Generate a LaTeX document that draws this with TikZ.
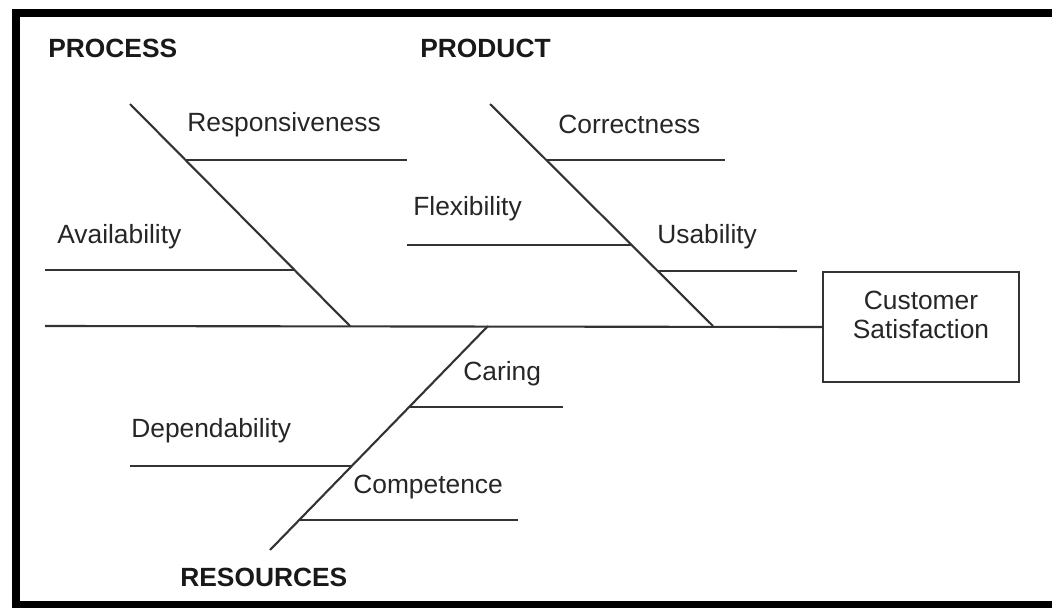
\documentclass[tikz,border=0pt]{standalone}
\usepackage{fontspec}
\setmainfont{Liberation Sans}
\usepackage{xcolor}
\usepackage{tikz}

\begin{document}
\begin{tikzpicture}[x=0.02cm, y=-0.02cm, bone/.style={draw=black!80, line width=1.2pt},
    cause/.style={font=\fontsize{15}{16}\selectfont, text=black!85, inner sep=0pt, anchor=base west},
    group/.style={font=\fontsize{15}{16}\selectfont\bfseries, text=black!90, inner sep=0pt, anchor=base west}]
    \useasboundingbox (0,0) rectangle (1052,608);
    \draw[line width=5pt] (16,13) rectangle (1075,605);

    % effect
    \node[draw=black!80, line width=1.2pt, minimum width=3.92cm, minimum height=2.2cm] (effect) at (921,327) {};
    \node[font=\fontsize{15}{16}\selectfont, text=black!85, align=center, anchor=base, inner sep=0pt] (effecttext) at (921,338) {Customer\\Satisfaction};

    % spine
    \coordinate (tail) at (45,326);
    \draw[bone] (tail) -- (effect.west);

    % main bones
    \coordinate (proctop) at (130,104);  \coordinate (procend) at (350,326);
    \coordinate (prodtop) at (490,104);  \coordinate (prodend) at (713,326);
    \coordinate (resend) at (488,326);   \coordinate (resbot) at (270,550);
    \draw[bone] (proctop) -- (procend);
    \draw[bone] (prodtop) -- (prodend);
    \draw[bone] (resend) -- (resbot);

    % sub bones
    \coordinate (resp) at (186,160);   \coordinate (respend) at (407,160);
    \coordinate (avail) at (294,270);  \coordinate (availend) at (45,270);
    \coordinate (corr) at (546,160);   \coordinate (corrend) at (725,160);
    \coordinate (flex) at (631,245);   \coordinate (flexend) at (407,245);
    \coordinate (usab) at (657,271);   \coordinate (usabend) at (797,271);
    \coordinate (car) at (409,407);    \coordinate (carend) at (563,407);
    \coordinate (dep) at (352,466);    \coordinate (depend) at (130,466);
    \coordinate (comp) at (299,520);   \coordinate (compend) at (518,520);
    \draw[bone] (resp) -- (respend);
    \draw[bone] (avail) -- (availend);
    \draw[bone] (corr) -- (corrend);
    \draw[bone] (flex) -- (flexend);
    \draw[bone] (usab) -- (usabend);
    \draw[bone] (car) -- (carend);
    \draw[bone] (dep) -- (depend);
    \draw[bone] (comp) -- (compend);

    % labels
    \node[group] (process) at (48,58) {PROCESS};
    \node[group] (product) at (420,58) {PRODUCT};
    \node[group] (resources) at (180,586) {RESOURCES};
    \node[cause] (responsiveness) at (187,132) {Responsiveness};
    \node[cause] (availability) at (57,243) {Availability};
    \node[cause] (correctness) at (558,133) {Correctness};
    \node[cause] (flexibility) at (413,215) {Flexibility};
    \node[cause] (usability) at (657,243) {Usability};
    \node[cause] (caring) at (463,380) {Caring};
    \node[cause] (dependability) at (131,437) {Dependability};
    \node[cause] (competence) at (353,493) {Competence};
\end{tikzpicture}
\end{document}
